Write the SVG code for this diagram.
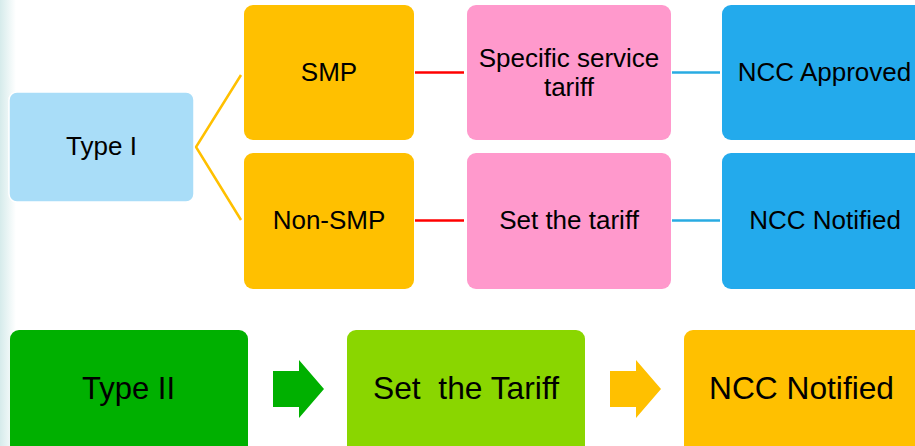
<svg xmlns="http://www.w3.org/2000/svg" width="915" height="446" viewBox="0 0 915 446">
<defs>
<linearGradient id="edge" x1="0" y1="0" x2="1" y2="0">
<stop offset="0" stop-color="#d6ebeb"/>
<stop offset="1" stop-color="#ffffff"/>
</linearGradient>
</defs>
<style>
text{font-family:"Liberation Sans",Arial,sans-serif;fill:#000;text-anchor:middle}
.t1{font-size:26px}
.t2{font-size:32px;white-space:pre}
.conn{fill:none;stroke-width:2.5}
</style>
<rect x="0" y="0" width="915" height="446" fill="#ffffff"/>
<rect x="0" y="0" width="16" height="446" fill="url(#edge)"/>
<g id="connectors">
<polyline class="conn" points="241,75 196,147 241,220" stroke="#ffc000" stroke-width="2"/>
<line class="conn" x1="415" y1="72.5" x2="464" y2="72.5" stroke="#ff0000"/>
<line class="conn" x1="415" y1="220.5" x2="464" y2="220.5" stroke="#ff0000"/>
<line class="conn" x1="672" y1="72.5" x2="720" y2="72.5" stroke="#29abe2"/>
<line class="conn" x1="672" y1="220.5" x2="720" y2="220.5" stroke="#29abe2"/>
<polygon points="273,371 299,371 299,360 324,389 299,418 299,407 273,407" fill="#00b000"/>
<polygon points="610,371 636,371 636,360 661,389 636,418 636,407 610,407" fill="#ffc000"/>
</g>
<g id="type1">
<rect x="9" y="92" width="185" height="110" rx="8" fill="#a9ddf8" stroke="#ffffff" stroke-width="1.5"/>
<text class="t1" x="101.5" y="155">Type I</text>
</g>
<g id="smp">
<rect x="244" y="5" width="170" height="135" rx="9" fill="#ffc000"/>
<text class="t1" x="329" y="81">SMP</text>
</g>
<g id="nonsmp">
<rect x="244" y="153" width="170" height="136" rx="9" fill="#ffc000"/>
<text class="t1" x="329" y="229">Non-SMP</text>
</g>
<g id="specific">
<rect x="467" y="5" width="204" height="135" rx="9" fill="#ff99cc"/>
<text class="t1" x="569" y="67">Specific service</text>
<text class="t1" x="569" y="96">tariff</text>
</g>
<g id="settariff">
<rect x="467" y="153" width="204" height="136" rx="9" fill="#ff99cc"/>
<text class="t1" x="569" y="229">Set the tariff</text>
</g>
<g id="approved">
<rect x="722" y="5" width="210" height="135" rx="9" fill="#23aaec"/>
<text class="t1" x="824.5" y="81">NCC Approved</text>
</g>
<g id="notified1">
<rect x="722" y="153" width="210" height="136" rx="9" fill="#23aaec"/>
<text class="t1" x="825" y="229">NCC Notified</text>
</g>
<g id="type2">
<rect x="10" y="330" width="238" height="130" rx="9" fill="#00b000"/>
<text class="t2" x="128.5" y="399" textLength="93" lengthAdjust="spacingAndGlyphs">Type II</text>
</g>
<g id="settariff2">
<rect x="347" y="330" width="238" height="130" rx="9" fill="#8ad600"/>
<text class="t2" x="466" y="399" textLength="186" lengthAdjust="spacingAndGlyphs">Set  the Tariff</text>
</g>
<g id="notified2">
<rect x="684" y="330" width="250" height="130" rx="9" fill="#ffc000"/>
<text class="t2" x="801.5" y="399" textLength="185" lengthAdjust="spacingAndGlyphs">NCC Notified</text>
</g>
</svg>
